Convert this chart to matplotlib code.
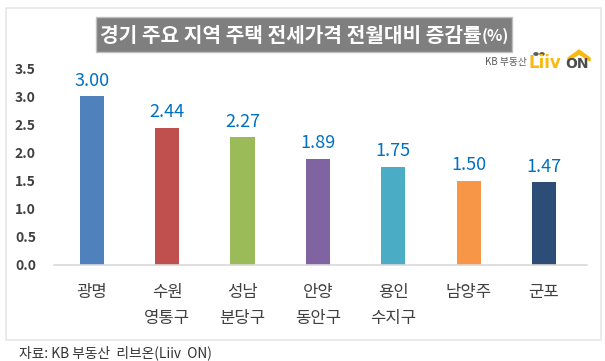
import matplotlib
matplotlib.use('Agg')
import matplotlib.pyplot as plt
from matplotlib.patches import Rectangle, Polygon, Circle

plt.rcParams['font.family'] = ['Noto Sans CJK KR', 'DejaVu Sans']

# dados
regioes = ['광명', '수원\n영통구', '성남\n분당구', '안양\n동안구', '용인\n수지구', '남양주', '군포']
valores = [3.00, 2.44, 2.27, 1.89, 1.75, 1.50, 1.47]
cores = ['#4F81BD', '#C0504D', '#9BBB59', '#8064A2', '#4BACC6', '#F79646', '#2C4D75']
yticks = [0.0, 0.5, 1.0, 1.5, 2.0, 2.5, 3.0, 3.5]

W, H = 605, 361
fig = plt.figure(figsize=(W / 100, H / 100), dpi=100)


def fx(x):
    return x / W


def fy(y):
    return 1 - y / H


# moldura
fig.add_artist(Rectangle((fx(6), fy(340)), 595 / W, 332 / H, transform=fig.transFigure,
                         facecolor='white', edgecolor='#E6E6E6', linewidth=1.2, zorder=-1))

ax = fig.add_axes([fx(54), fy(265), 533 / W, 197 / H])
ax.patch.set_alpha(0)
ax.bar(range(len(valores)), valores, width=0.32, color=cores)
for i, v in enumerate(valores):
    ax.text(i, v + 0.11, f'{v:.2f}', ha='center', va='bottom', fontsize=13, color='#0070C0')

ax.set_xlim(-0.5, 6.57)
ax.set_ylim(0, 3.5)
ax.set_yticks(yticks)
ax.set_yticklabels([f'{t:.1f}' for t in yticks], fontsize=10, fontweight='bold', color='#404040')
ax.set_xticks(range(len(regioes)))
ax.set_xticklabels(regioes, fontsize=12, color='#404040', linespacing=1.65)
ax.tick_params(axis='both', length=0)
ax.tick_params(axis='x', pad=14)
ax.tick_params(axis='y', pad=13)
for s in ['top', 'right', 'left']:
    ax.spines[s].set_visible(False)
ax.spines['bottom'].set_color('#D9D9D9')
ax.spines['bottom'].set_linewidth(1.2)

# titulo
fig.add_artist(Rectangle((fx(96), fy(52)), 416 / W, 35 / H, transform=fig.transFigure,
                         facecolor='#7F7F7F', edgecolor='#BFBFBF', linewidth=1))
fig.text(fx(100), fy(35), '경기 주요 지역 주택 전세가격 전월대비 증감률', fontsize=14.6, fontweight='bold',
         color='white', va='center', ha='left')
fig.text(fx(509), fy(36), '(%)', fontsize=11.5, fontweight='bold', color='white', va='center', ha='right')

# logo
fig.text(fx(485), fy(62), 'KB 부동산', fontsize=7, color='#595959', va='center', ha='left')
fig.text(fx(529), fy(63), 'Liiv', fontsize=12, fontweight='bold', color='#F9B90F', va='center', ha='left',
         family=['DejaVu Sans'])
fig.text(fx(589), fy(64), 'ON', fontsize=10, fontweight='bold', color='#4D4D4D', va='center', ha='right',
         family=['DejaVu Sans'])
for cx in [536, 542]:
    fig.add_artist(Circle((fx(cx), fy(54)), 2 / W, transform=fig.transFigure, color='#595959'))
fig.add_artist(Polygon([(fx(568), fy(58)), (fx(579), fy(50)), (fx(590), fy(58)), (fx(590), fy(61)),
                        (fx(579), fy(54)), (fx(568), fy(61))],
                       transform=fig.transFigure, color='#F9B90F'))

# fonte
fig.text(fx(19), fy(353), '자료: KB 부동산  리브온(Liiv  ON)', fontsize=9.9, color='#333333', va='center', ha='left')

fig.savefig('out.png', dpi=100)
